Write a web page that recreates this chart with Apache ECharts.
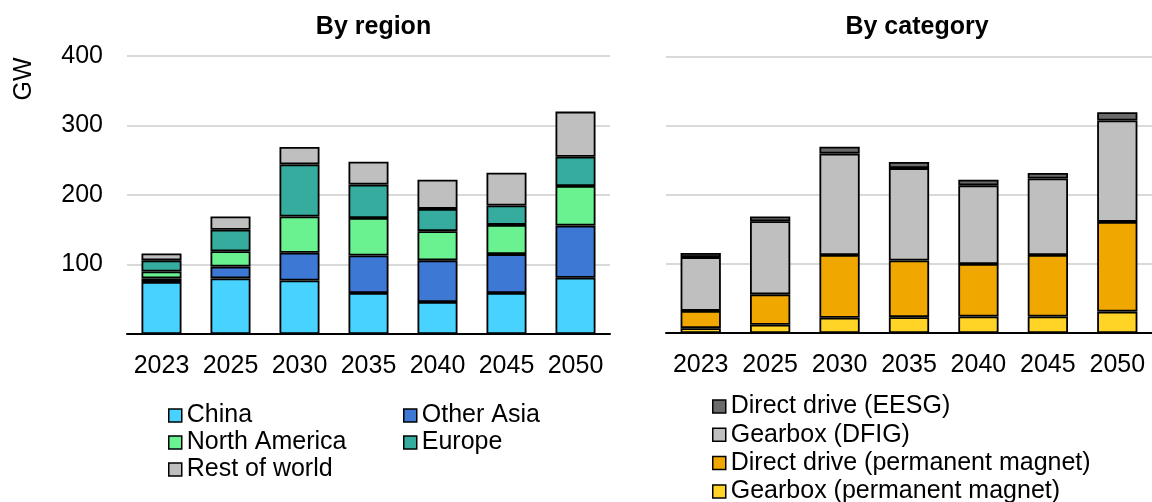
<!DOCTYPE html>
<html>
<head>
<meta charset="utf-8">
<script src="https://cdn.jsdelivr.net/npm/echarts@6/dist/echarts.min.js"></script>
<style>
  html, body { margin: 0; padding: 0; background: #ffffff; }
  #chart { width: 1152px; height: 502px; }
</style>
</head>
<body>
<div id="chart"></div>
<script>
// Wind turbine installations (GW), by region and by drivetrain category
const years = ['2023', '2025', '2030', '2035', '2040', '2045', '2050'];

// By region (stacked bottom to top)
const china = [75, 80, 77, 59, 46, 59, 81];
const otherAsia = [5, 17, 40, 54, 60, 56, 75];
const northAmerica = [10, 22, 52, 54, 42, 42, 57];
const europe = [16, 31, 75, 48, 32, 28, 42];
const restOfWorld = [10, 19, 25, 33, 42, 47, 65];

// By category (stacked bottom to top)
const gearboxPM = [7, 12, 22, 23, 24, 24, 31];
const directDrivePM = [25, 44, 91, 82, 76, 89, 130];
const gearboxDFIG = [78, 106, 147, 134, 114, 111, 147];
const directDriveEESG = [6, 7, 10, 9, 8, 8, 12];

const yTicks = [0, 100, 200, 300, 400];

const FONT = "'Liberation Sans', Arial, sans-serif";
const FS = 25;

const chart = echarts.init(document.getElementById('chart'), null, { renderer: 'canvas' });

function bar(name, data, color, axis, stack) {
  return {
    name: name,
    type: 'bar',
    stack: stack,
    xAxisIndex: axis,
    yAxisIndex: axis,
    data: data,
    barWidth: '58%',
    itemStyle: { color: color, borderColor: '#000000', borderWidth: 1.8 },
    emphasis: { disabled: true },
    animation: false
  };
}

function yAxis(gridIndex, showLabels) {
  return {
    type: 'value',
    gridIndex: gridIndex,
    min: yTicks[0],
    max: yTicks[yTicks.length - 1],
    interval: yTicks[1] - yTicks[0],
    axisLine: { show: false },
    axisTick: { show: false },
    axisLabel: {
      show: showLabels,
      color: '#000000',
      fontFamily: FONT,
      fontSize: FS,
      margin: 24,
      formatter: v => (v === 0 ? '' : String(v))
    },
    splitLine: { lineStyle: { color: '#D9D9D9', width: 2 } }
  };
}

function xAxis(gridIndex) {
  return {
    type: 'category',
    gridIndex: gridIndex,
    data: years,
    axisLine: { lineStyle: { color: '#000000', width: 2 } },
    axisTick: { show: false },
    axisLabel: { interval: 0, color: '#000000', fontFamily: FONT, fontSize: FS, margin: 20 }
  };
}

const legendText = { color: '#000000', fontFamily: FONT, fontSize: FS, lineHeight: 24 };
const legendBase = {
  orient: 'vertical', padding: 0, height: 200,
  itemWidth: 13, itemHeight: 13, icon: 'rect', selectedMode: false,
  itemStyle: { borderColor: '#000000', borderWidth: 1.5 },
  textStyle: legendText
};

chart.setOption({
  animation: false,
  backgroundColor: '#ffffff',
  title: [
    { text: 'By region', left: 368.5, textAlign: 'center', top: 10,
      textStyle: { fontFamily: FONT, fontSize: FS, fontWeight: 'bold', color: '#000000' } },
    { text: 'By category', left: 912, textAlign: 'center', top: 10,
      textStyle: { fontFamily: FONT, fontSize: FS, fontWeight: 'bold', color: '#000000' } }
  ],
  grid: [
    { left: 127, width: 483, top: 56, height: 278 },
    { left: 666, width: 490, top: 57, height: 276 }
  ],
  xAxis: [xAxis(0), xAxis(1)],
  yAxis: [yAxis(0, true), yAxis(1, false)],
  legend: [
    Object.assign({}, legendBase, { left: 168, top: 403, itemGap: 2,
      data: ['China', 'North America', 'Rest of world'] }),
    Object.assign({}, legendBase, { left: 403, top: 403, itemGap: 2,
      data: ['Other Asia', 'Europe'] }),
    Object.assign({}, legendBase, { left: 712, top: 394, itemGap: 3.3,
      data: ['Direct drive (EESG)', 'Gearbox (DFIG)', 'Direct drive (permanent magnet)', 'Gearbox (permanent magnet)'] })
  ],
  graphic: [
    { type: 'text', x: 24, y: 79, rotation: Math.PI / 2,
      style: { text: 'GW', fill: '#000000', font: FS + 'px ' + FONT, align: 'center', verticalAlign: 'middle' } }
  ],
  series: [
    bar('China', china, '#48D2FF', 0, 'region'),
    bar('Other Asia', otherAsia, '#3C78D4', 0, 'region'),
    bar('North America', northAmerica, '#6AF290', 0, 'region'),
    bar('Europe', europe, '#36AC9F', 0, 'region'),
    bar('Rest of world', restOfWorld, '#BFBFBF', 0, 'region'),
    bar('Gearbox (permanent magnet)', gearboxPM, '#FFD426', 1, 'category'),
    bar('Direct drive (permanent magnet)', directDrivePM, '#F0A800', 1, 'category'),
    bar('Gearbox (DFIG)', gearboxDFIG, '#BFBFBF', 1, 'category'),
    bar('Direct drive (EESG)', directDriveEESG, '#6A6A6A', 1, 'category')
  ]
});
</script>
</body>
</html>
